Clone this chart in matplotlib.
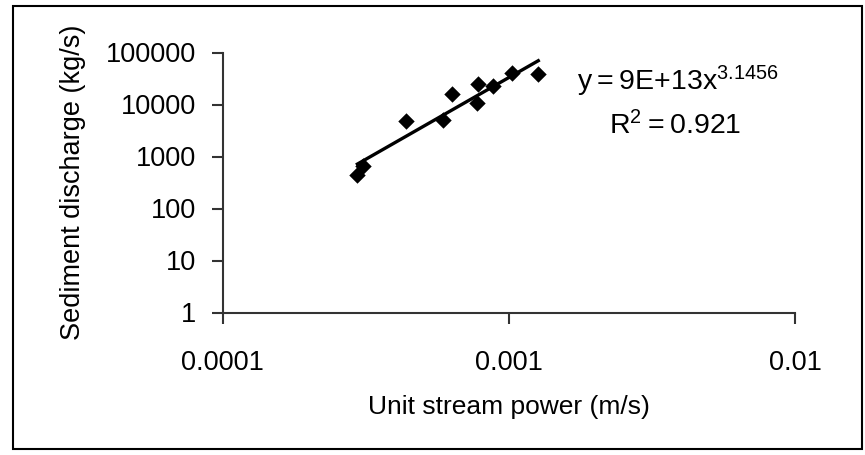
import numpy as np
import matplotlib.pyplot as plt
from matplotlib.patches import Rectangle

plt.rcParams['font.family'] = ['Liberation Sans', 'DejaVu Sans']
plt.rcParams['mathtext.fontset'] = 'custom'
plt.rcParams['mathtext.rm'] = 'Liberation Sans'

# Measured unit stream power (m/s) and sediment discharge (kg/s)
stream_power = [0.000296, 0.000310, 0.000436, 0.000588, 0.000632,
                0.000773, 0.000783, 0.000883, 0.001028, 0.001268]
sediment = [441, 657, 4815, 5035, 15920, 10830, 24450, 22700, 39800, 38600]

# Power-law trend line y = a * x^b
coef_a = 9e13
coef_b = 3.1456
r_squared = 0.921

x_ticks = [0.0001, 0.001, 0.01]
x_tick_labels = ['0.0001', '0.001', '0.01']
y_ticks = [1, 10, 100, 1000, 10000, 100000]
y_tick_labels = ['1', '10', '100', '1000', '10000', '100000']

fig = plt.figure(figsize=(8.65, 4.55), dpi=100)
ax = fig.add_axes([222.5 / 865, 1 - 312.5 / 455, (795 - 222.5) / 865, (312.5 - 52.5) / 455])

ax.scatter(stream_power, sediment, marker='D', s=70, color='black', zorder=3, linewidths=0)

xs = np.linspace(min(stream_power), max(stream_power), 100)
ax.plot(xs, coef_a * xs ** coef_b, color='black', lw=2.4, zorder=2)

ax.set_xscale('log')
ax.set_yscale('log')
ax.set_xlim(0.0001, 0.01)
ax.set_ylim(1, 100000)
ax.set_xticks(x_ticks)
ax.set_xticklabels(x_tick_labels)
ax.set_yticks(y_ticks)
ax.set_yticklabels(y_tick_labels)
ax.minorticks_off()

for side in ['top', 'right']:
    ax.spines[side].set_visible(False)
for side in ['left', 'bottom']:
    ax.spines[side].set_linewidth(1.5)
    ax.spines[side].set_color('#333333')
ax.tick_params(axis='y', direction='out', length=8, width=1.5, pad=11,
               labelsize=19.5, color='#333333')
ax.tick_params(axis='x', direction='out', length=8, width=1.5, pad=19,
               labelsize=19.5, color='#333333')

ax.set_xlabel('Unit stream power (m/s)', fontsize=19, labelpad=14)
ax.set_ylabel('Sediment discharge (kg/s)', fontsize=19.5, labelpad=14)

ax.text(0.62, 0.89, r'$\mathregular{y = 9E{+}13x^{3.1456}}$', transform=ax.transAxes,
        fontsize=20.5, ha='left', va='center')
ax.text(0.79, 0.72, r'$\mathregular{R^2 = %.3f}$' % r_squared, transform=ax.transAxes,
        fontsize=20.5, ha='center', va='center')

# border round the whole chart
fig.patches.append(Rectangle((13 / 865, 1 - 449 / 455), (862 - 13) / 865, (449 - 6) / 455,
                             transform=fig.transFigure, fill=False,
                             edgecolor='black', lw=1.5))

fig.savefig('out.png', dpi=100)
